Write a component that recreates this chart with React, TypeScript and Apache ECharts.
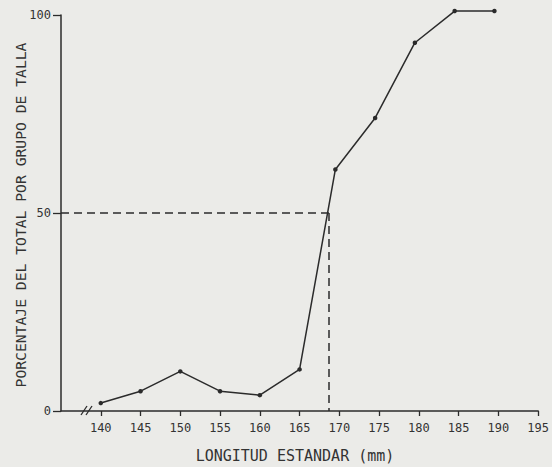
import React, { useEffect, useRef } from "react";
import * as echarts from "echarts";

const xValues: number[] = [140, 145, 150, 155, 160, 165, 169.5, 174.5, 179.5, 184.5, 189.5];
const yValues: number[] = [2, 5, 10, 5, 4, 10.5, 61, 74, 93, 101, 101];
const xTicks: number[] = [140, 145, 150, 155, 160, 165, 170, 175, 180, 185, 190, 195];
const yInterval = 50;
const l50Length = 168.7;
const l50Percent = 50;
const yTitle = "PORCENTAJE DEL TOTAL POR GRUPO DE TALLA";
const xTitle = "LONGITUD ESTANDAR (mm)";

const INK = "#2b2b2b";
const FONT = "DejaVu Sans Mono";

export default function App() {
  const ref = useRef<HTMLDivElement>(null);
  useEffect(() => {
    if (!ref.current) return;
    const chart = echarts.init(ref.current, null, { renderer: "svg" });
    chart.setOption({
      animation: false,
      backgroundColor: "#ebebe8",
      grid: { left: 61, right: 11, top: 15, bottom: 56 },
      xAxis: {
        type: "value",
        min: 135,
        max: 195,
        splitLine: { show: false },
        axisLine: { lineStyle: { color: INK, width: 1.5 } },
        axisTick: { customValues: xTicks, length: 5, lineStyle: { color: INK, width: 1.3 } },
        axisLabel: {
          customValues: xTicks,
          color: "#333",
          fontFamily: FONT,
          fontSize: 12,
          margin: 11,
        },
      },
      yAxis: {
        type: "value",
        min: 0,
        max: 100,
        interval: yInterval,
        splitLine: { show: false },
        axisLine: { show: true, lineStyle: { color: INK, width: 1.5 } },
        axisTick: { show: true, inside: false, length: 8, lineStyle: { color: INK, width: 1.3 } },
        axisLabel: {
          color: "#333",
          fontFamily: FONT,
          fontSize: 12,
          margin: 10,
        },
      },
      series: [
        {
          type: "line",
          clip: false,
          data: xValues.map((x, i) => [x, yValues[i]]),
          symbol: "circle",
          symbolSize: 4.5,
          itemStyle: { color: INK },
          lineStyle: { color: INK, width: 1.5 },
          markLine: {
            silent: true,
            symbol: "none",
            label: { show: false },
            lineStyle: { color: INK, width: 1.5, type: [8, 5] },
            data: [
              [{ coord: [135, l50Percent] }, { coord: [l50Length, l50Percent] }],
              [{ coord: [l50Length, l50Percent] }, { coord: [l50Length, 0] }],
            ],
          },
        },
      ],
      graphic: [
        {
          type: "line",
          shape: { x1: 81, y1: 415, x2: 87, y2: 406 },
          style: { stroke: INK, lineWidth: 1.3 },
        },
        {
          type: "line",
          shape: { x1: 86, y1: 415, x2: 92, y2: 406 },
          style: { stroke: INK, lineWidth: 1.3 },
        },
        {
          type: "text",
          x: 20,
          y: 215,
          rotation: Math.PI / 2,
          style: {
            text: yTitle,
            fill: "#333",
            font: `14.7px "${FONT}"`,
            align: "center",
            verticalAlign: "middle",
          },
        },
        {
          type: "text",
          x: 295,
          y: 456,
          style: {
            text: xTitle,
            fill: "#333",
            font: `15px "${FONT}"`,
            align: "center",
            verticalAlign: "middle",
          },
        },
      ],
    });
    return () => chart.dispose();
  }, []);
  return (
    <div
      ref={ref}
      style={{ position: "fixed", left: 0, top: 0, width: 552, height: 467 }}
    />
  );
}
